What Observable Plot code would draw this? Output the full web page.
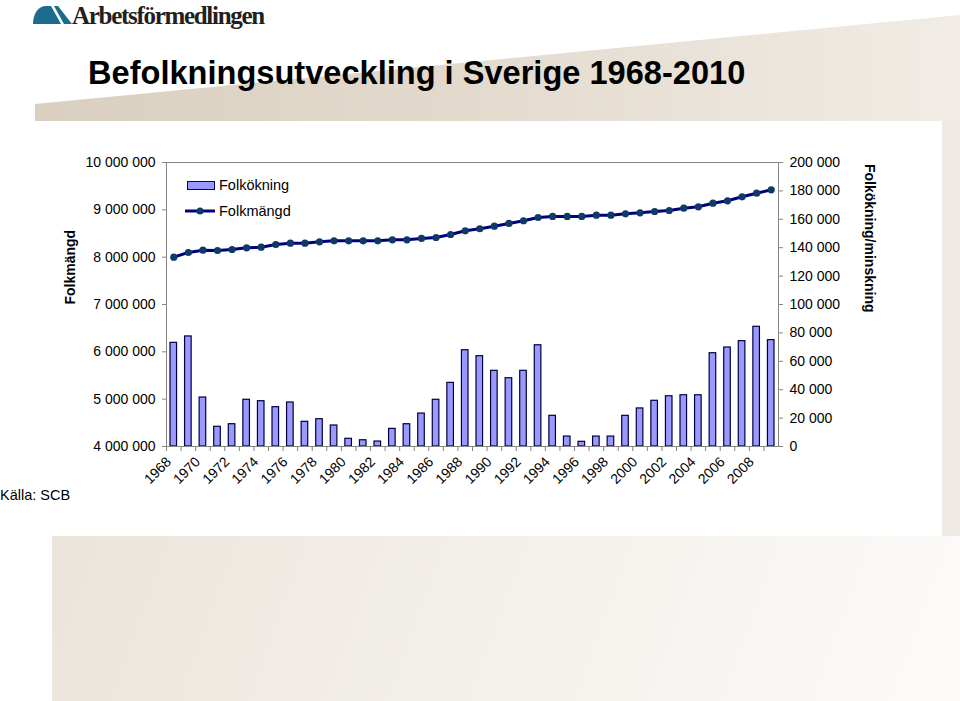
<!DOCTYPE html>
<html><head><meta charset="utf-8">
<script src="https://cdn.jsdelivr.net/npm/d3@7"></script>
<script src="https://cdn.jsdelivr.net/npm/@observablehq/plot@0.6"></script>
<style>
body{margin:0;background:#fff;font-family:"Liberation Sans",Arial,sans-serif;}
#page{position:relative;width:960px;height:701px;overflow:hidden;background:#fff;}
.abs{position:absolute;}
#topband{left:0;top:0;width:960px;height:121px;background:linear-gradient(90deg,#d9cebf 0%,#e2d9cc 45%,#f1ece5 100%);clip-path:polygon(35px 104px,960px 15px,960px 121px,35px 121px);}
#rightband{left:942px;top:121px;width:18px;height:415px;background:#eee9e2;}
#bottomband{left:52px;top:536px;width:908px;height:165px;background:linear-gradient(110deg,#ebe4da 0%,#f3efea 45%,#fcfbf9 100%);}
#title{left:88px;top:57px;font-size:32.6px;line-height:32px;font-weight:bold;color:#000;white-space:nowrap;}
#logotext{left:72px;top:1px;font-family:"Liberation Serif","Times New Roman",serif;font-weight:bold;font-size:25px;letter-spacing:-1.3px;color:#231f20;line-height:30px;white-space:nowrap;}
#source{left:0;top:486px;font-size:14.5px;line-height:18px;color:#000;white-space:nowrap;}
#legend{left:184px;top:172px;font-size:14.5px;color:#000;}
.lg{display:flex;align-items:center;height:26px;}
.lg svg{margin-right:3px;}
#chart{left:0;top:121px;}
</style></head><body>
<div id="page">
  <div class="abs" id="topband"></div>
  <div class="abs" id="rightband"></div>
  <div class="abs" id="bottomband"></div>
  <svg class="abs" style="left:30px;top:3px" width="46" height="24" viewBox="30 3 46 24">
    <path d="M33,24 C33,14 38,6 46,6 L51,6 L61,24 Z" fill="#1b6b8d"/>
    <path d="M54,6 L58,6 L72,24 L64,24 Z" fill="#1b6b8d"/>
  </svg>
  <div class="abs" id="logotext">Arbetsförmedlingen</div>
  <div class="abs" id="title">Befolkningsutveckling i Sverige 1968-2010</div>
  <div class="abs" id="chart"></div>
  <div class="abs" id="legend">
    <div class="lg"><svg width="32" height="12"><rect x="3.5" y="2.5" width="27" height="8" fill="#9999ff" stroke="#000080" stroke-width="1"/></svg>Folkökning</div>
    <div class="lg"><svg width="32" height="12"><line x1="1" y1="6" x2="31" y2="6" stroke="#000080" stroke-width="3"/><circle cx="16" cy="6" r="3.5" fill="#0f3a66"/></svg>Folkmängd</div>
  </div>
  <div class="abs" id="source">Källa: SCB</div>
</div>
<script>
const years = [1968,1969,1970,1971,1972,1973,1974,1975,1976,1977,1978,1979,1980,1981,1982,1983,1984,1985,1986,1987,1988,1989,1990,1991,1992,1993,1994,1995,1996,1997,1998,1999,2000,2001,2002,2003,2004,2005,2006,2007,2008,2009];
const folkokning = [73000,77500,34500,13900,15700,32900,31900,27700,31000,17400,19200,14800,5400,4400,3500,12400,15700,23200,32900,44800,67800,63600,53300,48100,53300,71300,21600,7000,3300,7000,7000,21600,26800,32200,35400,36100,36100,65700,69700,74200,84300,74900];
const folkmangd = [8000000,8099000,8148000,8141000,8162000,8198000,8211000,8268000,8296000,8296000,8325000,8346000,8346000,8346000,8346000,8367000,8367000,8395000,8416000,8479000,8557000,8600000,8655000,8712000,8769000,8838000,8860000,8860000,8860000,8887000,8887000,8916000,8937000,8965000,8986000,9035000,9064000,9140000,9191000,9275000,9352000,9423000];
const leftTicks = [4000000,5000000,6000000,7000000,8000000,9000000,10000000];
const rightTicks = [0,20000,40000,60000,80000,100000,120000,140000,160000,180000,200000];
const xTickLabels = [1968,1970,1972,1974,1976,1978,1980,1982,1984,1986,1988,1990,1992,1994,1996,1998,2000,2002,2004,2006,2008];

const W = 942, H = 415, mL = 166, mR = 164, mT = 41, mB = 90;
const leftMin = 4000000, leftMax = 10000000, rightMax = 200000;
const toRight = v => (v - leftMin) / (leftMax - leftMin) * rightMax;
const fromRight = v => leftMin + v / rightMax * (leftMax - leftMin);
const fmt = d3.formatLocale({thousands: " ", grouping: [3], decimal: ",", currency: ["", ""]}).format(",d");
const step = (W - mL - mR) / years.length;
const data = years.map((y, i) => ({year: y, inc: folkokning[i], pop: folkmangd[i]}));
const font = '"Liberation Sans", Arial, sans-serif';

const chart = Plot.plot({
  width: W, height: H,
  marginLeft: mL, marginRight: mR, marginTop: mT, marginBottom: mB,
  style: {background: "transparent", fontFamily: font, fontSize: "14px", color: "#000", overflow: "visible"},
  x: {type: "band", domain: years, padding: 0, round: false},
  y: {domain: [0, rightMax]},
  marks: [
    Plot.barY(data, {x: "year", y: "inc", fill: "#9999ff", stroke: "#000040", strokeWidth: 1.2, insetLeft: 4, insetRight: 4}),
    Plot.frame({stroke: "#858585"}),
    Plot.axisY({anchor: "left", ticks: leftTicks.map(toRight), tickFormat: d => fmt(Math.round(fromRight(d))), tickSize: 4, tickPadding: 7, stroke: "#858585", fill: "#000", fontSize: 14, label: null}),
    Plot.axisY({anchor: "right", ticks: rightTicks, tickFormat: d => fmt(d), tickSize: 4, tickPadding: 7, stroke: "#858585", fill: "#000", fontSize: 14, label: null}),
    Plot.axisX({ticks: years, tickFormat: () => "", tickSize: 5, dx: -step / 2, stroke: "#858585", label: null}),
    Plot.axisX({ticks: xTickLabels, tickFormat: d => String(d), tickRotate: -45, tickSize: 0, tickPadding: 13, dx: -5, fill: "#000", fontSize: 14, label: null}),
    Plot.line(data, {x: "year", y: d => toRight(d.pop), stroke: "#000080", strokeWidth: 3}),
    Plot.dot(data, {x: "year", y: d => toRight(d.pop), r: 3.6, fill: "#0f3a66", stroke: "none"}),
    Plot.text(["Folkmängd"], {text: d => d, frameAnchor: "left", rotate: -90, dx: -96, fontWeight: "bold", fontSize: 14, fill: "#000"}),
    Plot.text(["Folkökning/minskning"], {text: d => d, frameAnchor: "right", rotate: 90, dx: 91, dy: 8, fontWeight: "bold", fontSize: 14, fill: "#000"})
  ]
});
document.getElementById("chart").appendChild(chart);
</script>
</body></html>
